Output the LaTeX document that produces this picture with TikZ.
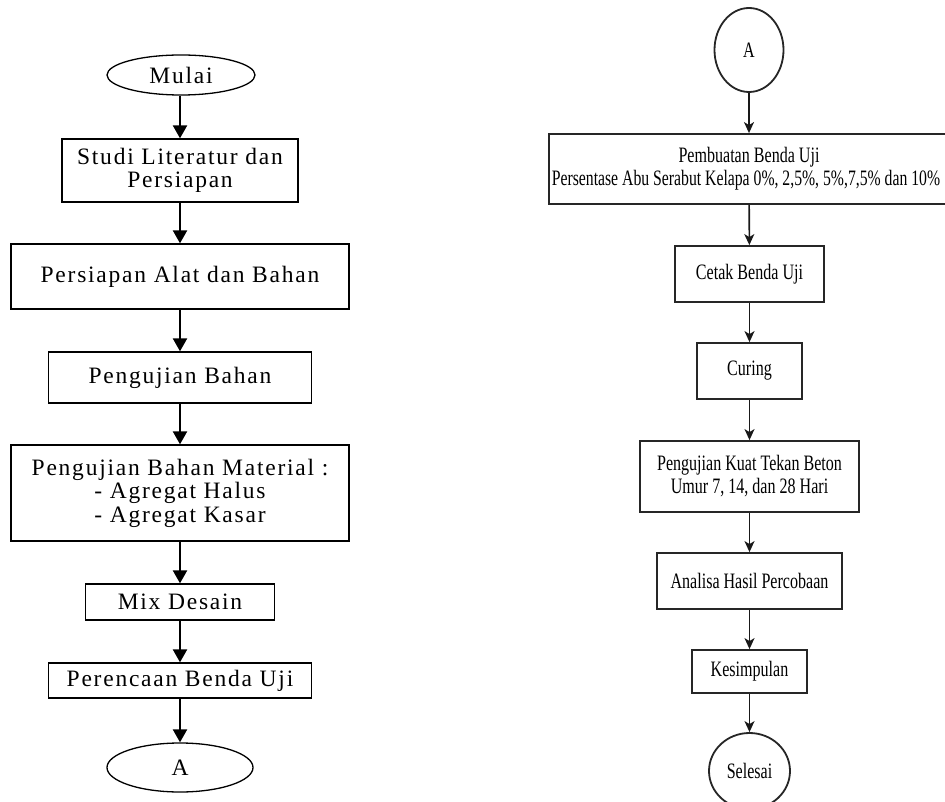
\documentclass[tikz,border=0pt]{standalone}
\usepackage{fontspec}
\setmainfont{Liberation Serif}
\newfontfamily\leftfont[LetterSpace=7.5]{Liberation Serif}
\newfontfamily\rightfont[FakeStretch=0.73]{Liberation Serif}
\newfontfamily\rightfontnarrow[FakeStretch=0.715]{Liberation Serif}
\usetikzlibrary{shapes.geometric,arrows.meta}
\begin{document}
\begin{tikzpicture}[x=1pt,y=-1pt,
  lbox/.style={draw=black,line width=1.3pt,rectangle,inner sep=0pt,align=center,
    font=\leftfont\fontsize{23.5}{23.5}\selectfont},
  lell/.style={lbox,ellipse},
  larrow/.style={line width=2.3pt,-{Triangle[width=14pt,length=13pt]}},
  rbox/.style={draw=black!85,line width=1.8pt,rectangle,inner sep=0pt,align=center,
    font=\rightfont\fontsize{22}{23}\selectfont},
  rell/.style={rbox,ellipse},
  rarrow/.style={line width=1.6pt,draw=black!90,-{Stealth[width=10pt,length=11pt,inset=3pt]}}]
\useasboundingbox (0,0) rectangle (945,802);
\clip (0,0) rectangle (945,802);
\fill[white] (0,0) rectangle (945,802);
% left column
\node[lell,minimum width=148pt,minimum height=40pt] (mulai) at (181,75) {Mulai};
\node[lbox,minimum width=236pt,minimum height=63pt] (studi) at (180,170.5) {Studi Literatur dan\\Persiapan};
\node[lbox,minimum width=338pt,minimum height=65pt] (alat) at (180,276.5) {Persiapan Alat dan Bahan};
\node[lbox,minimum width=263pt,minimum height=51pt] (uji) at (180,377.5) {Pengujian Bahan};
\node[lbox,minimum width=338pt,minimum height=96pt] (mat) at (180,493) {Pengujian Bahan Material :\\- Agregat Halus\\- Agregat Kasar};
\node[lbox,minimum width=189pt,minimum height=36pt] (mix) at (180,602) {Mix Desain};
\node[lbox,minimum width=263pt,minimum height=35pt] (ren) at (180,680.5) {Perencaan Benda Uji};
\node[lell,minimum width=146pt,minimum height=49pt] (a1) at (180,767.5) {A};
\draw[larrow] (mulai.south -| studi.north) -- (studi.north);
\draw[larrow] (studi) -- (alat);
\draw[larrow] (alat) -- (uji);
\draw[larrow] (uji) -- (mat);
\draw[larrow] (mat) -- (mix);
\draw[larrow] (mix) -- (ren);
\draw[larrow] (ren) -- (a1);
% right column
\node[rell,minimum width=69pt,minimum height=84pt] (a2) at (749,50) {A};
\node[rbox,minimum width=400pt,minimum height=70pt] (buat) at (749,169) {Pembuatan Benda Uji\\{\rightfontnarrow Persentase Abu Serabut Kelapa 0\%, 2,5\%, 5\%,7,5\% dan 10\%}\hspace*{6pt}};
\node[rbox,minimum width=149pt,minimum height=56pt] (cetak) at (749.5,274) {Cetak Benda Uji};
\node[rbox,minimum width=105pt,minimum height=56pt] (curing) at (749.5,371) {Curing};
\node[rbox,minimum width=219pt,minimum height=71pt] (kuat) at (749.5,476.5) {Pengujian Kuat Tekan Beton\\Umur 7, 14, dan 28 Hari};
\node[rbox,minimum width=185pt,minimum height=56pt] (anal) at (749.5,581) {Analisa Hasil Percobaan};
\node[rbox,minimum width=115pt,minimum height=43pt] (kes) at (749.5,671.5) {Kesimpulan};
\node[rell,minimum width=81pt,minimum height=76pt] (sel) at (749.5,771) {Selesai};
\draw[rarrow] (a2) -- (buat);
\draw[rarrow] (buat) -- (cetak);
\draw[rarrow] (cetak) -- (curing);
\draw[rarrow] (curing) -- (kuat);
\draw[rarrow] (kuat) -- (anal);
\draw[rarrow] (anal) -- (kes);
\draw[rarrow] (kes) -- (sel);
\end{tikzpicture}
\end{document}
